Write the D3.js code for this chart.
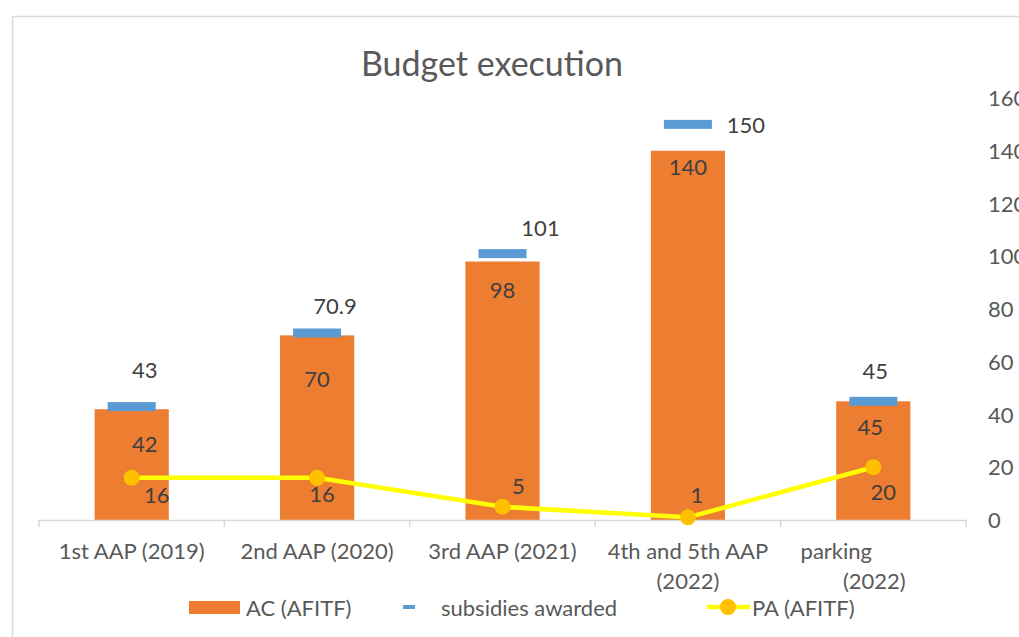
<!DOCTYPE html>
<html><head><meta charset="utf-8">
<script src="https://cdn.jsdelivr.net/npm/d3@7"></script>
<style>
html,body{margin:0;padding:0;background:#fff;overflow:hidden}
text{font-family:Lato,"Open Sans",sans-serif}
</style></head>
<body><svg id="c" width="1019" height="637"></svg>
<script>
// ---- data ----
const categories = ["1st AAP (2019)", "2nd AAP (2020)", "3rd AAP (2021)", "4th and 5th AAP (2022)", "parking (2022)"];
const categoryLines = [["1st AAP (2019)"], ["2nd AAP (2020)"], ["3rd AAP (2021)"], ["4th and 5th AAP", "(2022)"], ["parking", "(2022)"]];
const acValues = [42, 70, 98, 140, 45];
const subsidiesValues = [43, 70.9, 101, 150, 45];
const paValues = [16, 16, 5, 1, 20];
const yTicks = [0, 20, 40, 60, 80, 100, 120, 140, 160];
const seriesNames = ["AC (AFITF)", "subsidies awarded", "PA (AFITF)"];

// ---- layout (label offsets, not data) ----
const subLabelOff = [[13, -37], [18, -28], [38, -26], [58, 0], [2, -31]];
const acLabelOff = [[13, 34], [0, 43], [0, 28], [0, 16], [-3, 25]];
const paLabelOff = [[25, 17], [5, 16], [16, -21], [9, -23], [10, 24]];
const catLineDx = [[0], [0], [0], [0, 0], [-37, 1]];

const svg = d3.select("#c");
const textCol = "#595959", labelCol = "#404040";
const fs = 22;

// chart border
svg.append("rect").attr("x", 12.5).attr("y", 16.5).attr("width", 1100).attr("height", 700)
  .attr("fill", "#fff").attr("stroke", "#d9d9d9").attr("stroke-width", 1.5);

// title
svg.append("text").attr("x", 492).attr("y", 62).attr("text-anchor", "middle")
  .attr("dominant-baseline", "central").attr("font-size", 34).attr("fill", textCol)
  .text("Budget execution");

const x = d3.scaleBand().domain(categories).range([39, 966]).paddingInner(0).paddingOuter(0);
const y = d3.scaleLinear().domain([0, 160]).range([520, 98]);
const cx = c => x(c) + x.bandwidth() / 2;

// bars
const barW = x.bandwidth() * 0.4;
svg.append("g").selectAll("rect").data(acValues).join("rect")
  .attr("x", (d, i) => cx(categories[i]) - barW / 2)
  .attr("y", d => y(d)).attr("width", barW).attr("height", d => y(0) - y(d))
  .attr("fill", "#ED7D31");

// x axis
const xAxis = svg.append("g").attr("transform", `translate(0,${y(0)})`)
  .call(d3.axisBottom(x).tickSize(0).tickFormat(""));
xAxis.select(".domain").attr("stroke", "#d9d9d9").attr("stroke-width", 1.5);
xAxis.selectAll(".tick").remove();
const bounds = categories.map(c => x(c)).concat([x(categories[categories.length - 1]) + x.bandwidth()]);
svg.append("g").selectAll("line").data(bounds).join("line")
  .attr("x1", d => d).attr("x2", d => d).attr("y1", y(0)).attr("y2", y(0) + 7)
  .attr("stroke", "#d9d9d9").attr("stroke-width", 1.5);

// category labels
categoryLines.forEach((lines, i) => {
  lines.forEach((ln, j) => {
    svg.append("text").attr("x", cx(categories[i]) + catLineDx[i][j]).attr("y", 550 + j * 30)
      .attr("text-anchor", "middle").attr("dominant-baseline", "central")
      .attr("font-size", fs).attr("fill", textCol).text(ln);
  });
});

// right y axis
const yAxis = svg.append("g").attr("transform", "translate(988,0)")
  .call(d3.axisRight(y).tickValues(yTicks).tickSize(0).tickPadding(0));
yAxis.select(".domain").remove();
yAxis.selectAll("text").attr("font-size", fs).attr("fill", textCol)
  .attr("font-family", "Lato").attr("text-anchor", "start").attr("dy", "0.35em");

// subsidies dashes
svg.append("g").selectAll("rect").data(subsidiesValues).join("rect")
  .attr("x", (d, i) => cx(categories[i]) - 24).attr("y", d => y(d) - 4.5)
  .attr("width", 48).attr("height", 9).attr("fill", "#5B9BD5");

// PA line
const line = d3.line().x((d, i) => cx(categories[i])).y(d => y(d));
svg.append("path").datum(paValues).attr("d", line).attr("fill", "none")
  .attr("stroke", "#FFFF00").attr("stroke-width", 4.5).attr("stroke-linejoin", "round");
svg.append("g").selectAll("circle").data(paValues).join("circle")
  .attr("cx", (d, i) => cx(categories[i])).attr("cy", d => y(d)).attr("r", 8)
  .attr("fill", "#FFC000");

// data labels
function labels(vals, offs) {
  svg.append("g").selectAll("text").data(vals).join("text")
    .attr("x", (d, i) => cx(categories[i]) + offs[i][0])
    .attr("y", (d, i) => y(d) + offs[i][1])
    .attr("text-anchor", "middle").attr("dominant-baseline", "central")
    .attr("font-size", fs).attr("fill", labelCol).text(d => d);
}
labels(subsidiesValues, subLabelOff);
labels(acValues, acLabelOff);
labels(paValues, paLabelOff);

// legend
const lg = svg.append("g");
lg.append("rect").attr("x", 189).attr("y", 601).attr("width", 51).attr("height", 13).attr("fill", "#ED7D31");
lg.append("text").attr("x", 246).attr("y", 607).attr("dominant-baseline", "central")
  .attr("font-size", fs).attr("fill", textCol).text(seriesNames[0]);
lg.append("rect").attr("x", 403).attr("y", 605).attr("width", 12).attr("height", 4).attr("fill", "#5B9BD5");
lg.append("text").attr("x", 441).attr("y", 607).attr("dominant-baseline", "central")
  .attr("font-size", fs).attr("fill", textCol).text(seriesNames[1]);
lg.append("line").attr("x1", 707).attr("x2", 750).attr("y1", 607).attr("y2", 607)
  .attr("stroke", "#FFFF00").attr("stroke-width", 4.5);
lg.append("circle").attr("cx", 728).attr("cy", 607).attr("r", 8).attr("fill", "#FFC000");
lg.append("text").attr("x", 752).attr("y", 607).attr("dominant-baseline", "central")
  .attr("font-size", fs).attr("fill", textCol).text(seriesNames[2]);
</script></body></html>
